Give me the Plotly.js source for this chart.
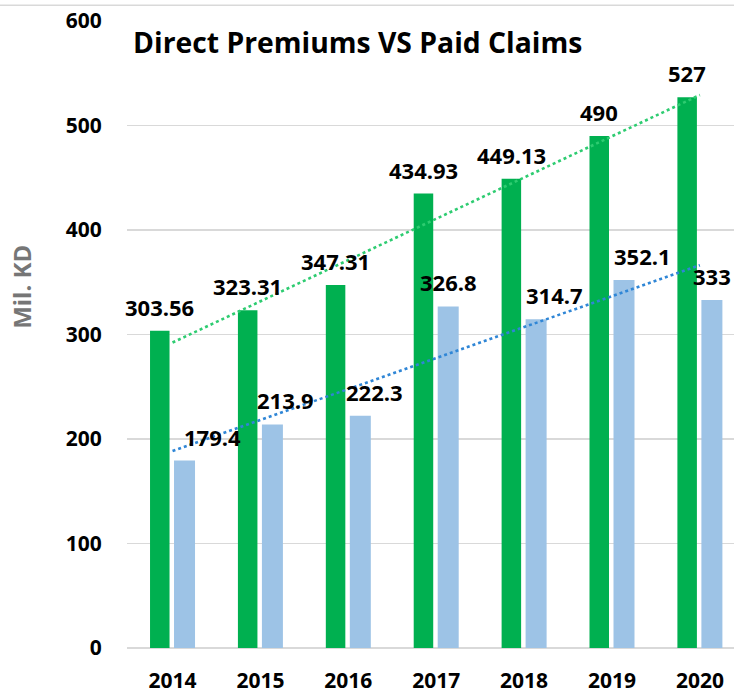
<!DOCTYPE html>
<html>
<head>
<meta charset="utf-8">
<script src="https://cdn.plot.ly/plotly-3.0.1.min.js"></script>
<style>html,body{margin:0;padding:0;background:#fff;}#chart{width:734px;height:693px;}</style>
</head>
<body>
<div id="chart"></div>
<script>
// ---- data ----
const years = ["2014", "2015", "2016", "2017", "2018", "2019", "2020"];
const premiums = [303.56, 323.31, 347.31, 434.93, 449.13, 490, 527];
const claims = [179.4, 213.9, 222.3, 326.8, 314.7, 352.1, 333];
const premiumLabels = ["303.56", "323.31", "347.31", "434.93", "449.13", "490", "527"];
const claimLabels = ["179.4", "213.9", "222.3", "326.8", "314.7", "352.1", "333"];
const yTicks = [0, 100, 200, 300, 400, 500, 600];
const yTitle = "Mil. KD";
const chartTitle = "Direct Premiums VS Paid Claims";

// ---- layout constants ----
const greenOffset = -0.256, greenWidth = 0.222;
const blueOffset = 0.017, blueWidth = 0.239;
const claimLabelXShift = [28, 13, 14, 0, 18, 18, 0];
const FONT = "Open Sans, sans-serif";

function linearFit(vals) {
  const n = vals.length;
  const xs = vals.map((_, i) => i);
  const mx = xs.reduce((a, b) => a + b, 0) / n;
  const my = vals.reduce((a, b) => a + b, 0) / n;
  let sxy = 0, sxx = 0;
  for (let i = 0; i < n; i++) { sxy += (xs[i] - mx) * (vals[i] - my); sxx += (xs[i] - mx) ** 2; }
  const slope = sxy / sxx;
  return xs.map(x => my + slope * (x - mx));
}

const traces = [
  {
    type: "bar", x: years, y: premiums, name: "Direct Premiums",
    marker: { color: "#00B050" }, offset: greenOffset, width: greenWidth,
    hoverinfo: "x+y"
  },
  {
    type: "bar", x: years, y: claims, name: "Paid Claims",
    marker: { color: "#9DC3E6" }, offset: blueOffset, width: blueWidth,
    hoverinfo: "x+y"
  },
  {
    type: "scatter", mode: "lines", x: years, y: linearFit(premiums),
    line: { color: "#2ECC71", width: 2.6, dash: "dot" }, hoverinfo: "skip"
  },
  {
    type: "scatter", mode: "lines", x: years, y: linearFit(claims),
    line: { color: "#2F86D6", width: 2.6, dash: "dot" }, hoverinfo: "skip"
  }
];

const annotations = [];
years.forEach((yr, i) => {
  annotations.push({
    xref: "x", yref: "y", x: i + greenOffset + greenWidth / 2, y: premiums[i],
    text: "<b>" + premiumLabels[i] + "</b>", showarrow: false,
    yanchor: "middle", yshift: 24,
    font: { family: FONT, size: 22, color: "#000" }
  });
  annotations.push({
    xref: "x", yref: "y", x: i + blueOffset + blueWidth / 2, y: claims[i],
    text: "<b>" + claimLabels[i] + "</b>", showarrow: false,
    yanchor: "middle", yshift: 24, xshift: claimLabelXShift[i],
    font: { family: FONT, size: 22, color: "#000" }
  });
});
annotations.push({
  xref: "paper", yref: "paper", x: -0.173, y: 0.576,
  text: "<b>" + yTitle + "</b>", showarrow: false, textangle: -90,
  xanchor: "center", yanchor: "middle",
  font: { family: FONT, size: 24, color: "#767676" }
});

const layout = {
  width: 734, height: 693,
  margin: { l: 127, r: 0, t: 21, b: 45 },
  paper_bgcolor: "#fff", plot_bgcolor: "#fff",
  showlegend: false,
  title: {
    text: "<b>" + chartTitle + "</b>",
    font: { family: FONT, size: 28.3, color: "#000" },
    xref: "paper", x: 0.01, xanchor: "left",
    yref: "container", y: 0.938, yanchor: "middle"
  },
  xaxis: {
    type: "category", range: [-0.518, 6.388],
    showgrid: false, zeroline: false, showline: false,
    ticks: "outside", ticklen: 14, tickcolor: "rgba(0,0,0,0)",
    tickfont: { family: FONT, size: 21, color: "#000", weight: "bold" },
    fixedrange: true
  },
  yaxis: {
    range: [0, 600], tickvals: yTicks,
    ticktext: yTicks.map(v => "<b>" + v + "</b>"),
    showgrid: true, gridcolor: "#D9D9D9", gridwidth: 1.3,
    zeroline: true, zerolinecolor: "#D9D9D9", zerolinewidth: 1.5,
    showline: false,
    ticks: "outside", ticklen: 20, tickcolor: "rgba(0,0,0,0)",
    tickfont: { family: FONT, size: 21, color: "#000" },
    fixedrange: true
  },
  annotations: annotations,
  shapes: [{
    type: "line", xref: "paper", yref: "paper", x0: -0.3, x1: 1, y0: 1.025, y1: 1.025,
    line: { color: "#D9D9D9", width: 1.5 }
  }]
};

Plotly.newPlot("chart", traces, layout, { displayModeBar: false, staticPlot: true });
</script>
</body>
</html>
